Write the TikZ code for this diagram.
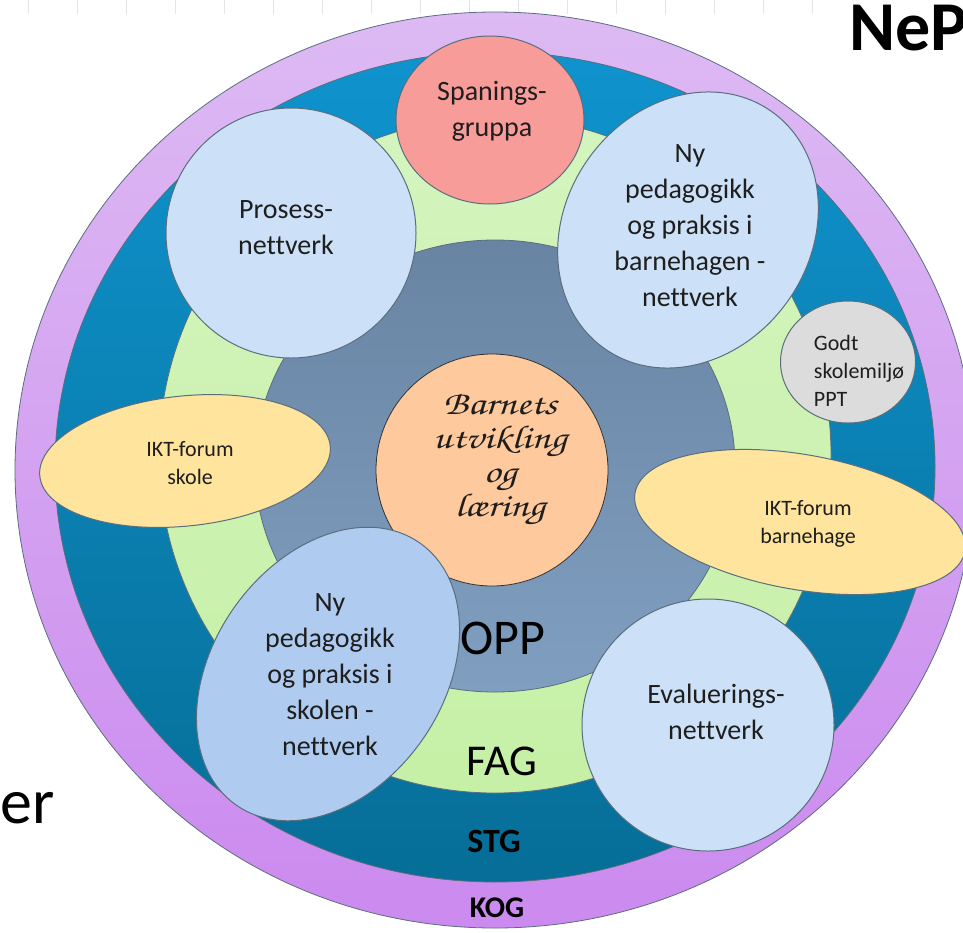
\documentclass[tikz,border=0pt]{standalone}
\usepackage[T1]{fontenc}
\usepackage{fontspec}
\setmainfont{Carlito}[Ligatures=NoCommon]
\usetikzlibrary{
  shapes.geometric, % Node shape "ellipse"
  positioning,
}
\definecolor{kogtop}{HTML}{DDBAF3}
\definecolor{kogbot}{HTML}{CB8AEF}
\definecolor{stgtop}{HTML}{0F93CE}
\definecolor{stgbot}{HTML}{066E97}
\definecolor{fagtop}{HTML}{D4F4BE}
\definecolor{fagbot}{HTML}{C6F0A6}
\definecolor{opptop}{HTML}{6984A3}
\definecolor{oppbot}{HTML}{809FC0}
\definecolor{rim}{HTML}{5A6E7E}
\definecolor{bubbleblue}{HTML}{CCE1F7}
\definecolor{bubbledark}{HTML}{AFCCF0}
\definecolor{spanred}{HTML}{F89C9A}
\definecolor{godtgray}{HTML}{DCDCDC}
\definecolor{iktyellow}{HTML}{FEE49D}
\definecolor{corepeach}{HTML}{FEC99D}
\definecolor{ink}{HTML}{1E1E1E}
\newcommand{\hand}{\fontencoding{T1}\fontfamily{pzc}\fontseries{mb}\fontshape{it}\selectfont}
\newcommand{\fs}[2]{\fontsize{#1}{#2}\selectfont}
\def\ringx{495}
\tikzset{
  ring/.style={
    draw=rim,
    line width=0.8pt
  },
  bubble/.style={
    draw=rim,
    line width=1pt,
    inner sep=0pt,
    ellipse
  },
  bubble text/.style={
    text=ink,
    align=center,
    font=\fs{28}{36}
  },
  small text/.style={
    text=ink,
    align=center,
    font=\fs{22}{28}
  },
  ring label/.style={
    text=black,
    inner sep=0pt,
    font=\fs{#1}{#1}
  }
}

\begin{document}
\begin{tikzpicture}[x=1pt,y=-1pt]
\useasboundingbox (0,0) rectangle (963,932);
\foreach \i in {0,...,16}
  \draw[black!10,line width=0.8pt] (28+49*\i,0) -- (28+49*\i,14);
\path[ring,top color=kogtop,bottom color=kogbot] (\ringx,470) ellipse [x radius=480,y radius=458];
\path[ring,top color=stgtop,bottom color=stgbot] (\ringx,467) ellipse [x radius=440,y radius=415];
\path[ring,top color=fagtop,bottom color=fagbot] (\ringx,455) ellipse [x radius=336,y radius=338];
\path[ring,top color=opptop,bottom color=oppbot] (\ringx,466) ellipse [x radius=240,y radius=226];
\node[ring label=50]           (opp) at (503,638) {OPP};
\node[ring label=44]           (fag) at (502,761) {FAG};
\node[ring label=34]           (stg) at (494,841) {\bfseries STG};
\node[ring label=30]           (kog) at (497,908) {\bfseries KOG};
\node[circle,draw=black!80,line width=0.8pt,fill=corepeach,minimum size=232pt] (core) at (492,470) {};
\node[text=ink,align=center,xscale=1.25,font=\hand\fs{33}{34}] (coretxt) at (500,460) {Barnets\\utvikling\\og\\l\ae ring};
\node[bubble,fill=spanred,minimum width=188pt,minimum height=168pt]          (span)     at (490,120) {};
\node[bubble,fill=bubbleblue,minimum size=250pt]                           (prosess)  at (291,233) {};
\node[bubble,fill=bubbleblue,minimum width=290pt,minimum height=245pt,rotate=55] (nybhg) at (688,230) {};
\node[bubble,fill=godtgray,minimum width=135pt,minimum height=122pt]         (godt)     at (848,362) {};
\node[bubble,fill=iktyellow,minimum width=292pt,minimum height=130pt,rotate=6]  (iktskole) at (185,461) {};
\node[bubble,fill=iktyellow,minimum width=335pt,minimum height=135pt,rotate=-10] (iktbhg) at (800,522) {};
\node[bubble,fill=bubbledark,minimum width=320pt,minimum height=230pt,rotate=55] (nyskole) at (328,674) {};
\node[bubble,fill=bubbleblue,minimum size=252pt]                           (eval)     at (708,725) {};
\node[bubble text] (spantxt)     at (492,111) {Spanings-\\gruppa};
\node[bubble text] (prosesstxt)  at (286,228) {Prosess-\\nettverk};
\node[bubble text] (nybhgtxt)    at (690,226) {Ny\\pedagogikk\\og praksis i\\barnehagen -\\nettverk};
\node[small text,align=left] (godttxt) at (859,371) {Godt\\skolemiljø\\PPT};
\node[small text]  (iktskoletxt) at (190,463) {IKT-forum\\skole};
\node[small text]  (iktbhgtxt)   at (808,524) {IKT-forum\\barnehage};
\node[bubble text] (nyskoletxt)  at (330,675) {Ny\\pedagogikk\\og praksis i\\skolen -\\nettverk};
\node[bubble text] (evaltxt)     at (716,712) {Evaluerings-\\nettverk};
\node[anchor=base west,inner sep=0pt,font=\fs{70}{70}\bfseries] (title) at (849,50) {NeP};
\node[anchor=base west,inner sep=0pt,font=\fs{64}{64}]          (er)    at (0,823)  {er};
\end{tikzpicture}
\end{document}
